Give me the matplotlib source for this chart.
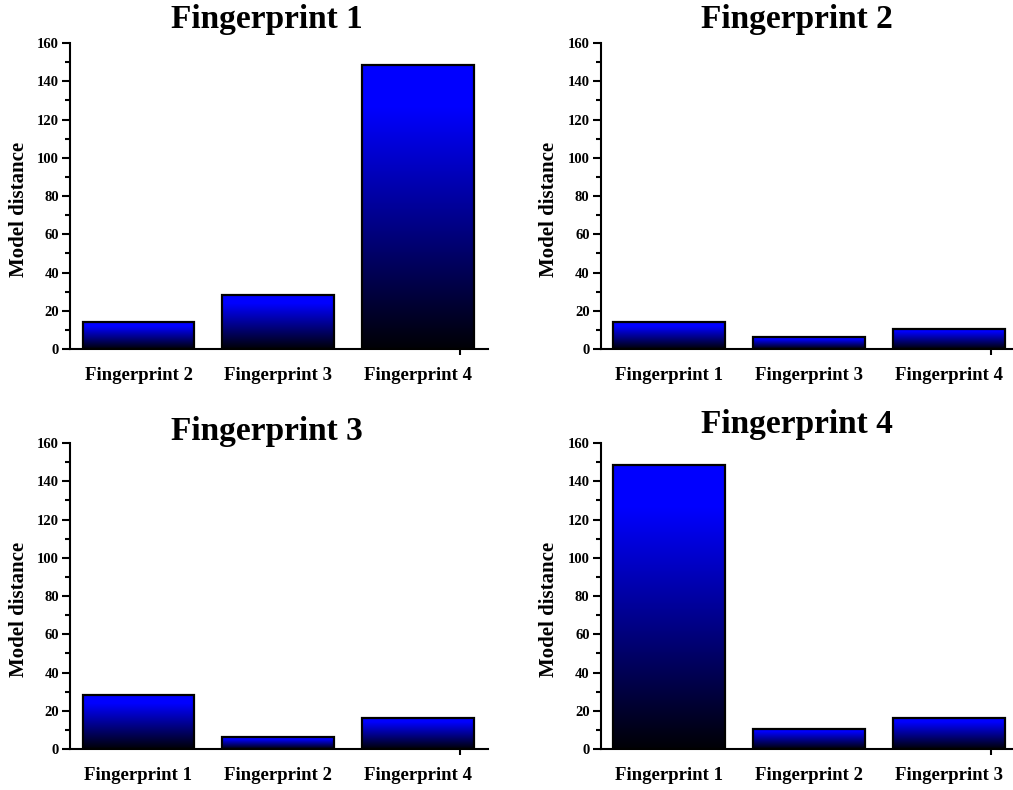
import matplotlib
matplotlib.use('Agg')
import matplotlib.pyplot as plt
import numpy as np
from matplotlib.colors import LinearSegmentedColormap

titles = ['Fingerprint 1', 'Fingerprint 2', 'Fingerprint 3', 'Fingerprint 4']
labels_1 = ['Fingerprint 2', 'Fingerprint 3', 'Fingerprint 4']
labels_2 = ['Fingerprint 1', 'Fingerprint 3', 'Fingerprint 4']
labels_3 = ['Fingerprint 1', 'Fingerprint 2', 'Fingerprint 4']
labels_4 = ['Fingerprint 1', 'Fingerprint 2', 'Fingerprint 3']
dist_1 = [14.0, 28.2, 148.7]
dist_2 = [14.0, 6.2, 10.5]
dist_3 = [28.2, 6.2, 16.3]
dist_4 = [148.7, 10.5, 16.3]

plt.rcParams['font.family'] = ['Liberation Serif', 'DejaVu Serif']
plt.rcParams['font.weight'] = 'bold'

cmap = LinearSegmentedColormap.from_list(
    'bk_blue', [(0.0, (0, 0, 0.02)), (0.5, (0, 0, 0.6)), (0.85, (0, 0, 1)), (1.0, (0, 0, 1))])
grad = np.linspace(0, 1, 256).reshape(-1, 1)

fig = plt.figure(figsize=(10.13, 7.9), dpi=100)
w, h = 0.4126, 0.3873
rects = [(0.0691, 0.5582), (0.593, 0.5582), (0.0691, 0.0519), (0.593, 0.0519)]
# title baseline height (axes fraction) and pad (points)
title_y = [1.0, 1.0, 1.0, 1.0]
pads = [11, 11, 2, 7]

for i, (lbls, vals) in enumerate([(labels_1, dist_1), (labels_2, dist_2),
                                  (labels_3, dist_3), (labels_4, dist_4)]):
    ax = fig.add_axes([rects[i][0], rects[i][1], w, h])
    x = np.arange(len(vals))
    bars = ax.bar(x, vals, width=0.8, facecolor='none', edgecolor='black',
                  linewidth=1.6, zorder=3)
    for b in bars:
        x0, y0 = b.get_x(), b.get_y()
        im = ax.imshow(grad, extent=[x0, x0 + b.get_width(), y0, y0 + b.get_height()],
                       origin='lower', aspect='auto', cmap=cmap, zorder=2)
        im.set_clip_path(b)
    ax.set_xlim(-0.49, 2.5)
    ax.set_ylim(0, 160)
    ax.set_yticks(np.arange(0, 161, 20))
    ax.set_yticks(np.arange(10, 160, 20), minor=True)
    ax.set_xticks(x)
    ax.set_xticklabels(lbls, fontsize=13.5, fontweight='bold')
    ax.set_xticks([2.3], minor=True)
    ax.tick_params(axis='x', which='major', length=0, pad=13)
    ax.tick_params(axis='x', which='minor', length=4, width=1.5)
    ax.tick_params(axis='y', which='major', length=6, width=1.5, labelsize=10.5, pad=2)
    ax.tick_params(axis='y', which='minor', length=3.5, width=1.5)
    for t in ax.get_yticklabels():
        t.set_fontweight('bold')
    ax.spines['top'].set_visible(False)
    ax.spines['right'].set_visible(False)
    ax.spines['left'].set_linewidth(1.5)
    ax.spines['bottom'].set_linewidth(1.5)
    ax.set_ylabel('Model distance', fontsize=15, fontweight='bold', labelpad=6, y=0.455)
    ax.set_title(titles[i], fontsize=24, fontweight='bold', pad=pads[i], x=0.47, y=title_y[i])

fig.savefig('out.png', dpi=100)
